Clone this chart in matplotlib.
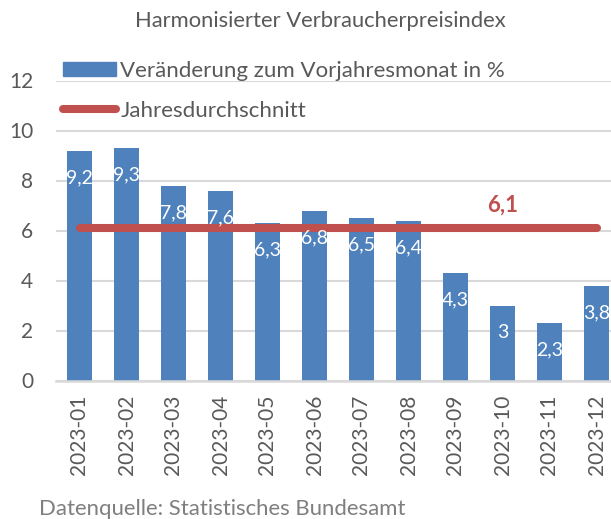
import matplotlib
matplotlib.use("Agg")
import matplotlib.pyplot as plt
from matplotlib.patches import Patch
from matplotlib.lines import Line2D

# data
monate = ['2023-01', '2023-02', '2023-03', '2023-04', '2023-05', '2023-06',
          '2023-07', '2023-08', '2023-09', '2023-10', '2023-11', '2023-12']
veraenderung = [9.2, 9.3, 7.8, 7.6, 6.3, 6.8, 6.5, 6.4, 4.3, 3.0, 2.3, 3.8]
jahresdurchschnitt = 6.1
y_ticks = [0, 2, 4, 6, 8, 10, 12]

blau = '#4f81bd'
rot = '#c0504d'
grau = '#595959'

plt.rcParams['font.family'] = ['Lato', 'DejaVu Sans']

def de(v):
    # deutsches Dezimalkomma
    return ('%g' % v).replace('.', ',')

fig = plt.figure(figsize=(6.11, 5.19), dpi=100)
ax = fig.add_axes([56/611., 138.5/519., 564/611., 300/519.])

x = list(range(len(monate)))
ax.bar(x, veraenderung, width=0.53, color=blau, zorder=2)
ax.plot([x[0], x[-1]], [jahresdurchschnitt]*2, color=rot, lw=5.8,
        solid_capstyle='round', zorder=3)

for xi, v in zip(x, veraenderung):
    ax.annotate(de(v), (xi, v), xytext=(0, -19.4), textcoords='offset points',
                ha='center', va='center', color='white', fontsize=14, zorder=4)

ax.annotate(de(jahresdurchschnitt), (9, jahresdurchschnitt), xytext=(0, 16.5),
            textcoords='offset points', ha='center', va='center', color=rot,
            fontsize=16, fontweight='bold', zorder=4)

ax.set_xlim(-0.5, 11.5)
ax.set_ylim(0, 12)
ax.set_yticks(y_ticks)
ax.set_xticks(x)
ax.set_xticklabels(monate, rotation=90)
ax.tick_params(axis='both', length=0, colors=grau, labelsize=15)
ax.tick_params(axis='y', pad=16.5)
ax.tick_params(axis='x', pad=10)
ax.grid(axis='y', color='#d9d9d9', lw=1.5, zorder=0)
ax.set_axisbelow(True)
for s in ['top', 'right', 'left']:
    ax.spines[s].set_visible(False)
ax.spines['bottom'].set_color('#d9d9d9')
ax.spines['bottom'].set_linewidth(1.8)

handles = [Patch(color=blau),
           Line2D([0], [0], color=rot, lw=5.8, solid_capstyle='round')]
labels = ['Veränderung zum Vorjahresmonat in %', 'Jahresdurchschnitt']
leg = ax.legend(handles, labels, loc='upper left', bbox_to_anchor=(63/611., 1 - 61/519.),
                bbox_transform=fig.transFigure, frameon=False, fontsize=16,
                handlelength=2.4, handleheight=0.6, handletextpad=0.18,
                labelspacing=0.88, borderaxespad=0, borderpad=0)
for t in leg.get_texts():
    t.set_color(grau)

fig.text(320/611., 1 - 21/519., 'Harmonisierter Verbraucherpreisindex',
         ha='center', va='center', fontsize=15.8, color=grau)
fig.text(39/611., 1 - 509/519., 'Datenquelle: Statistisches Bundesamt',
         ha='left', va='center', fontsize=15.9, color='#7f7f7f')

fig.savefig('out.png', dpi=100)
